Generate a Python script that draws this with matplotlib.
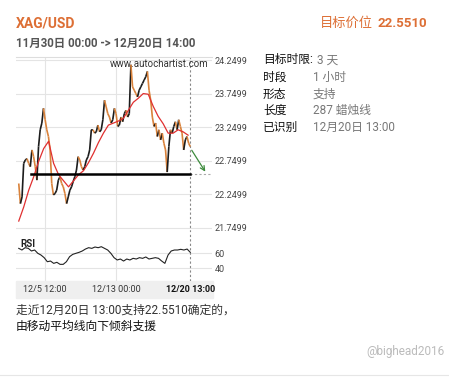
import numpy as np
import matplotlib
matplotlib.use("Agg")
import matplotlib.pyplot as plt
from matplotlib.collections import LineCollection
from matplotlib.lines import Line2D
from matplotlib.patches import Rectangle
from matplotlib.transforms import blended_transform_factory

# data
price_closes = [22.41, 22.11, 22.21, 22.71, 22.76, 22.78, 22.71, 22.66, 22.91, 22.81,
                22.66, 22.46, 22.96, 23.21, 23.31, 23.53, 23.36, 23.21, 23.11, 22.91,
                22.41, 22.24, 22.26, 22.31, 22.46, 22.51, 22.41, 22.36, 22.26, 22.11,
                22.21, 22.31, 22.36, 22.44, 22.51, 22.61, 22.81, 22.76, 22.66, 22.61,
                22.66, 22.76, 22.81, 22.91, 23.21, 23.21, 23.16, 23.18, 23.28, 23.18,
                23.21, 23.36, 23.65, 23.55, 23.45, 23.40, 23.31, 23.36, 23.53, 23.45,
                23.26, 23.28, 23.40, 23.33, 23.45, 23.50, 23.40, 23.45, 24.18, 23.85,
                23.80, 23.75, 23.70, 23.80, 23.85, 23.90, 23.95, 24.00, 24.08, 23.80,
                23.65, 23.40, 23.26, 23.31, 23.11, 23.21, 23.06, 23.16, 23.01, 22.91,
                22.58, 22.96, 23.21, 23.16, 23.26, 23.33, 23.21, 23.36, 23.26, 23.16,
                22.91, 23.06, 23.11, 23.01, 22.96]
ma_values = [21.85, 22.06, 22.31, 22.51, 22.74, 22.93, 23.04, 22.71, 22.54, 22.45,
             22.36, 22.45, 22.54, 22.60, 22.72, 22.86, 23.02, 23.16, 23.28, 23.31,
             23.34, 23.38, 23.50, 23.62, 23.68, 23.75, 23.74, 23.56, 23.41, 23.30,
             23.16, 23.16, 23.21, 23.18, 23.13]
rsi_values = [66.2, 64.0, 67.1, 66.2, 62.7, 64.0, 59.6, 57.3, 53.8, 48.4,
              49.3, 46.2, 47.6, 44.9, 44.9, 48.4, 55.1, 58.2, 59.6, 60.9,
              62.7, 65.3, 67.1, 66.2, 68.0, 67.1, 68.4, 66.2, 64.0, 59.6,
              53.8, 50.7, 52.0, 49.3, 52.0, 50.7, 52.9, 52.0, 53.8, 52.9,
              54.7, 52.0, 52.9, 53.8, 52.9, 49.3, 46.2, 57.3, 62.7, 64.0,
              64.0, 64.9, 64.0, 65.3, 60.9]
price_ticks = [24.2499, 23.7499, 23.2499, 22.7499, 22.2499, 21.7499]
rsi_ticks = [60, 40]
date_labels = ["12/5 12:00", "12/13 00:00", "12/20 13:00"]
date_bars = [48, 177, 312]
support_level = 22.5510
support_start_bar = 22
arrow_start = 22.94
target_level = 22.5510
target_bar = 342
info_labels = ["目标时限:", "时段", "形态", "长度", "已识别"]
info_values = ["3 天", "1 小时", "支持", "287 蜡烛线", "12月20日 13:00"]

W, H = 449, 381
plt.rcParams['font.family'] = ['Roboto', 'Noto Sans CJK SC', 'DejaVu Sans']

fig = plt.figure(figsize=(W / 100, H / 100), dpi=100)


def fx(x):
    return x / W


def fy(y):
    return 1 - y / H


def box(x0, y0, x1, y1):
    return [fx(x0), fy(y1), (x1 - x0) / W, (y1 - y0) / H]


orange = "#dd6f35"
last_bar = date_bars[-1]

# date band under the chart (kept below the axes so the labels show)
fig.patches.append(Rectangle((fx(16), fy(298)), 197 / W, 17 / H,
                             transform=fig.transFigure, color="#efefef", zorder=-1))

ax = fig.add_axes(box(16, 57, 212, 232))
ax_rsi = fig.add_axes(box(16, 232, 212, 281))

for a in (ax, ax_rsi):
    a.patch.set_alpha(0)
    a.set_xlim(-5, 351.5)
    a.set_xticks(date_bars[:2])
    a.tick_params(axis="x", length=0, labelbottom=False)
    a.xaxis.grid(True, color="#e4e4e4", lw=0.8)
    a.yaxis.grid(True, color="#e4e4e4", lw=0.8)
    a.yaxis.tick_right()
    a.tick_params(axis="y", length=0, pad=2, labelsize=6.5, labelcolor="#444")
    for s in a.spines.values():
        s.set_visible(False)
    a.set_axisbelow(True)
    a.axvline(last_bar, color="#888", lw=0.8, ls=(0, (2, 2)))

ax.spines["top"].set_visible(True)
ax.spines["top"].set_color("#dddddd")

# price as up/down coloured segments
xp = np.linspace(0, last_bar, len(price_closes))
pts = np.column_stack([xp, price_closes])
segs = np.stack([pts[:-1], pts[1:]], axis=1)
cols = ["#1c1c1c" if b >= a else "#d9823b" for a, b in zip(price_closes[:-1], price_closes[1:])]
ax.add_collection(LineCollection(segs, colors=cols, lw=1.2, zorder=3))

xm = np.linspace(0, last_bar - 4, len(ma_values))
ax.plot(xm, ma_values, color="#e03030", lw=0.9, zorder=4)

ax.plot([support_start_bar, last_bar], [support_level, support_level], color="black", lw=1.8, zorder=5)
ax.plot([last_bar, 351], [target_level, target_level], color="#aaaaaa", lw=0.8, ls=(0, (2, 2)))
ax.annotate("", xy=(target_bar, target_level), xytext=(last_bar, arrow_start),
            arrowprops=dict(arrowstyle="->", color="#3d8b3d", lw=0.9, mutation_scale=8))

ax.set_ylim(21.687, 24.295)
ax.set_yticks(price_ticks)
ax.set_yticklabels([f"{t:.4f}" for t in price_ticks])
ax.text(0.98, 0.96, "www.autochartist.com", transform=ax.transAxes, ha="right", va="center",
        fontsize=7, color="#333")

xr = np.linspace(0, last_bar, len(rsi_values))
ax_rsi.plot(xr, rsi_values, color="#222", lw=0.8)
ax_rsi.set_ylim(22.7, 88)
ax_rsi.set_yticks(rsi_ticks)
ax_rsi.set_yticklabels([str(t) for t in rsi_ticks])
ax_rsi.text(0.02, 0.75, "RSI", transform=ax_rsi.transAxes, fontsize=7, fontweight="bold",
            color="#222", va="center")

tr = blended_transform_factory(ax_rsi.transData, ax_rsi.transAxes)
for i, (b, lab) in enumerate(zip(date_bars, date_labels)):
    ax_rsi.text(b, -0.165, lab, transform=tr, ha="center", va="center", fontsize=6.5,
                color="#333" if i < 2 else "#111", fontweight="bold" if i == 2 else "normal")

# header texts
fig.text(fx(16), fy(24), "XAG/USD", fontsize=10, fontweight="bold", color=orange, va="center")
fig.text(fx(16), fy(43), "11月30日 00:00 -> 12月20日 14:00", fontsize=8.3, fontweight="bold",
         color="#555", va="center")
fig.text(fx(320), fy(23.5), "目标价位", fontsize=9.5, color=orange, va="center")
fig.text(fx(377), fy(23.5), "22.5510", fontsize=9.5, fontweight="bold", color=orange, va="center")

row_y = [60, 77, 94, 110, 127]
for i, (lab, val) in enumerate(zip(info_labels, info_values)):
    fig.text(fx(263), fy(row_y[i]), lab, fontsize=8.5, color="#111", va="center")
    fig.text(fx(317 if i == 0 else 313), fy(row_y[i]), val, fontsize=8.5, color="#777", va="center")

fig.text(fx(16), fy(310), "走近12月20日 13:00支持22.5510确定的，", fontsize=8.5, color="#333", va="center")
fig.text(fx(16), fy(326), "由移动平均线向下倾斜支援", fontsize=8.5, color="#111", va="center")
fig.text(fx(445), fy(352), "@bighead2016", fontsize=8.5, color="#bbbbbb", va="center", ha="right")

fig.add_artist(Line2D([0, 1], [fy(375), fy(375)], color="#e6e6e6", lw=0.8))

fig.savefig("out.png", dpi=100)
